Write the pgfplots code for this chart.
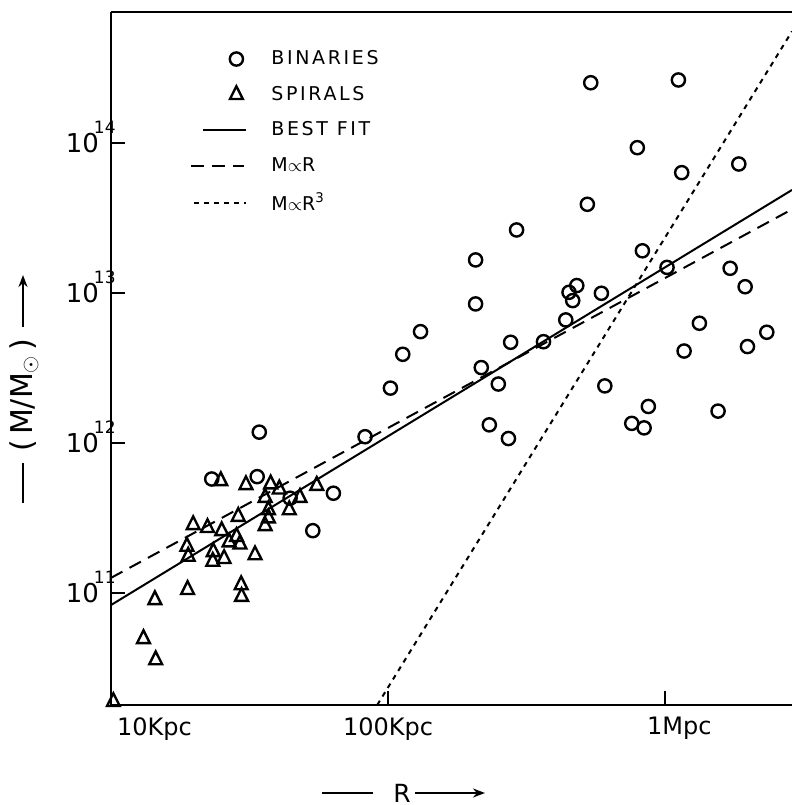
\documentclass[border=0pt]{standalone}
\usepackage{fontspec}
\setmainfont{DejaVu Sans}
\newfontfamily\legfont[LetterSpace=14]{DejaVu Sans}
\usepackage{pgfplots}
\pgfplotsset{compat=1.18}
\usetikzlibrary{calc, arrows.meta}

% y tick label: 10 with a raised exponent
\newcommand{\ylab}[1]{10\kern-2.5pt\raisebox{9.5pt}{\fontsize{8.5}{8.5}\selectfont #1}}

% legend images
\pgfplotsset{
    markleg/.style={legend image code/.code={\path[draw=none, fill=none] (0pt,-4pt) rectangle (28pt,4pt);
        \draw[##1] plot coordinates {(22.5pt,0pt)};}},
    solidleg/.style={legend image code/.code={\path[draw=none, fill=none] (0pt,-4pt) rectangle (28pt,4pt);
        \draw[##1] (6pt,0pt) -- (27.5pt,0pt);}},
    dashleg/.style={legend image code/.code={\path[draw=none, fill=none] (0pt,-4pt) rectangle (28pt,4pt);
        \draw[##1] (0pt,0pt) -- (26.5pt,0pt);}},
    dotleg/.style={legend image code/.code={\path[draw=none, fill=none] (0pt,-4pt) rectangle (28pt,4pt);
        \draw[##1] (1.5pt,0pt) -- (27.5pt,0pt);}},
}

\begin{document}
\begin{tikzpicture}
\begin{axis}[
    name=ax,
    scale only axis,
    width=340.5pt,
    height=346.5pt,
    xmode=log,
    ymode=log,
    xmin=10, xmax=2871,
    ymin=1.79e10, ymax=7.47e14,
    axis x line=box,
    axis y line*=left,
    y axis line style={-},
    axis line style={line width=1pt, black},
    tick align=inside,
    xtick pos=left,
    xminorticks=false,
    yminorticks=false,
    major tick length=7pt,
    tick style={line width=1pt, black},
    xtick={10,100,1000},
    xticklabels={\makebox[0pt][l]{\kern3pt 10Kpc}, 100Kpc, \makebox[0pt][l]{\kern-9pt 1Mpc}},
    ytick={1e11,1e12,1e13,1e14},
    yticklabels={\ylab{11},\ylab{12},\ylab{13},\ylab{14}},
    xticklabel style={font=\fontsize{12}{12}\selectfont, anchor=north, inner sep=0pt, yshift=-6pt},
    yticklabel style={font=\fontsize{13}{13}\selectfont, anchor=base east, inner sep=0pt, xshift=2.5pt, yshift=-4.75pt},
    legend style={draw=none, fill=none,
        at={(axis description cs:0.116,0.945)}, anchor=north west,
        font=\legfont\fontsize{9.5}{9.5}\selectfont,
        row sep=9.3pt, column sep=12pt, inner sep=0pt,
        nodes={inner sep=0pt}},
    legend cell align=left,
]

% binaries
\addplot[only marks, mark=o, mark size=3.3pt, line width=1.2pt, black, markleg]
coordinates {
    (539,2.52e14) (1117,2.63e14) (794,9.3e13) (1148,6.34e13) (1845,7.24e13)
    (524,3.90e13) (291,2.63e13) (207,1.66e13) (828,1.91e13) (1016,1.48e13)
    (1717,1.46e13) (1945,1.10e13) (450,1.01e13) (480,1.12e13) (464,8.89e12)
    (589,9.95e12) (207,8.45e12) (438,6.61e12) (131,5.52e12) (1330,6.28e12)
    (2328,5.47e12) (1983,4.39e12) (1171,4.10e12) (113,3.90e12) (277,4.69e12)
    (364,4.73e12) (217,3.18e12) (250,2.47e12) (606,2.40e12) (870,1.75e12)
    (1553,1.63e12) (232,1.32e12) (758,1.35e12) (840,1.26e12) (272,1.07e12)
    (82.6,1.10e12) (102,2.32e12) (34.3,1.18e12) (23.1,5.75e11) (33.7,5.96e11)
    (63.5,4.62e11) (44.3,4.28e11) (53.5,2.60e11)
};
\addlegendentry{BINARIES}

% spirals
\addplot[only marks, mark=triangle, mark size=3.7pt, mark options={yscale=1.15},
    line width=1.2pt, black, markleg]
coordinates {
    (24.9,5.58e11) (30.7,5.25e11) (37.7,5.31e11) (40.5,4.91e11) (36.0,4.32e11)
    (48.1,4.32e11) (55.3,5.19e11) (44.0,3.57e11) (37.0,3.57e11) (37.0,3.15e11)
    (36.0,2.80e11) (19.8,2.84e11) (22.3,2.72e11) (25.1,2.59e11) (28.8,3.23e11)
    (28.4,2.37e11) (29.2,2.11e11) (26.7,2.18e11) (18.8,2.04e11) (19.0,1.75e11)
    (23.4,1.88e11) (23.3,1.62e11) (25.6,1.69e11) (33.1,1.79e11) (14.4,8.98e10)
    (18.9,1.05e11) (29.5,1.13e11) (29.6,9.45e10) (13.1,4.94e10) (14.5,3.57e10)
    (10.2,1.88e10)
};
\addlegendentry{SPIRALS}

% best fit
\addplot[black, line width=1pt, solidleg]
coordinates {(10,8.3e10) (2871,4.86e13)};
\addlegendentry{BEST FIT}

% M propto R
\addplot[black, line width=1pt, dash pattern=on 6.5pt off 4pt, dashleg]
coordinates {(10,1.26e11) (2871,3.61e13)};
\addlegendentry{M$\propto$R}

% M propto R^3
\addplot[black, line width=1pt, dash pattern=on 2.5pt off 2.5pt, dotleg]
coordinates {(91.4,1.79e10) (2871,5.55e14)};
\addlegendentry{M$\propto$R\textsuperscript{3}}

\end{axis}

% axis titles with their dashes and arrows
\node[font=\fontsize{12.5}{12.5}\selectfont, inner sep=0pt]
    at ($(ax.south west)+(145.5pt,-44pt)$) {R};
\draw[line width=1pt] ($(ax.south west)+(105.5pt,-44pt)$) -- +(25.5pt,0pt);
\draw[line width=1pt, -{Stealth[length=6pt, width=4.5pt]}]
    ($(ax.south west)+(152pt,-44pt)$) -- +(35pt,0pt);

\node[font=\fontsize{15}{15}\selectfont, inner sep=0pt, rotate=90]
    at ($(ax.south west)+(-43.5pt,155pt)$) {(\,M/M\textsubscript{$\odot$}\,)};
\draw[line width=1pt] ($(ax.south west)+(-44pt,101pt)$) -- +(0pt,20pt);
\draw[line width=1pt, -{Stealth[length=6pt, width=4.5pt]}]
    ($(ax.south west)+(-44pt,189pt)$) -- +(0pt,26pt);

\pgfresetboundingbox
\path[use as bounding box] ($(ax.south west)+(-55.5pt,-50pt)$) rectangle ($(ax.north east)+(0pt,6pt)$);
\end{tikzpicture}
\end{document}
